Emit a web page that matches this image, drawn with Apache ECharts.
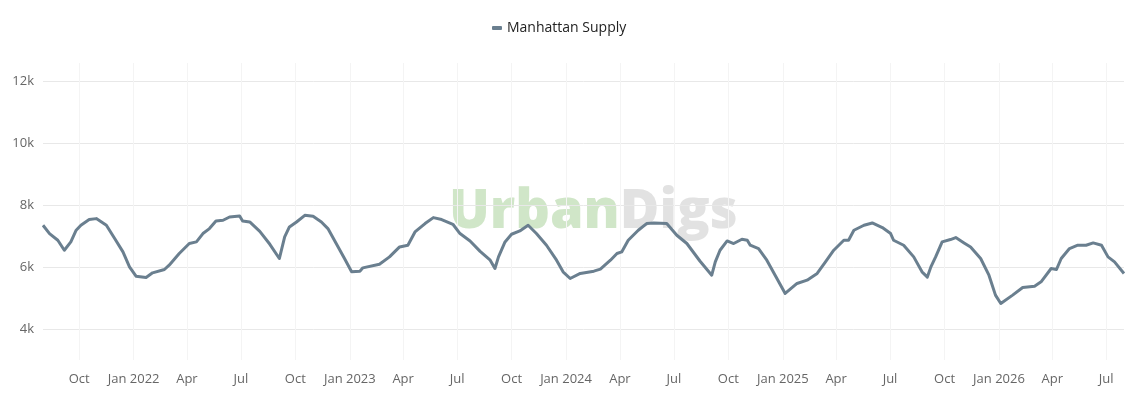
<!DOCTYPE html>
<html>
<head>
<meta charset="utf-8">
<script src="https://cdn.jsdelivr.net/npm/echarts@6/dist/echarts.min.js"></script>
<style>
html,body{margin:0;padding:0;background:#fff;}
#chart{width:1129px;height:400px;}
</style>
</head>
<body>
<div id="chart"></div>
<script>
const seriesName = 'Manhattan Supply';
const dates = [
'2021-08-01','2021-08-12','2021-08-26','2021-09-06','2021-09-17','2021-09-26','2021-10-04','2021-10-18','2021-10-30','2021-11-16','2021-11-30','2021-12-14','2021-12-25',
'2022-01-05','2022-01-22','2022-02-02','2022-02-22','2022-03-02','2022-03-19','2022-04-05','2022-04-17','2022-04-28','2022-05-09','2022-05-20','2022-06-01','2022-06-12','2022-06-29','2022-07-04','2022-07-16','2022-08-02','2022-08-19','2022-09-04','2022-09-13','2022-09-21','2022-10-03','2022-10-17','2022-10-31','2022-11-14','2022-11-25','2022-12-09','2022-12-23',
'2023-01-04','2023-01-18','2023-01-23','2023-02-20','2023-03-09','2023-03-26','2023-04-09','2023-04-21','2023-05-08','2023-05-22','2023-06-05','2023-06-24','2023-07-06','2023-07-23','2023-08-09','2023-08-26','2023-09-03','2023-09-09','2023-09-20','2023-10-01','2023-10-15','2023-10-29','2023-11-12','2023-11-29','2023-12-16','2023-12-27',
'2024-01-08','2024-01-25','2024-02-17','2024-02-28','2024-03-16','2024-03-27','2024-04-04','2024-04-15','2024-05-02','2024-05-16','2024-05-28','2024-06-19','2024-07-06','2024-07-23','2024-08-14','2024-09-03','2024-09-09','2024-09-17','2024-09-29','2024-10-10','2024-10-24','2024-11-02','2024-11-07','2024-11-21','2024-12-05','2024-12-19',
'2025-01-05','2025-01-25','2025-02-11','2025-02-28','2025-03-14','2025-03-28','2025-04-14','2025-04-22','2025-05-01','2025-05-18','2025-06-01','2025-06-18','2025-07-02','2025-07-07','2025-07-24','2025-08-10','2025-08-24','2025-09-02','2025-09-08','2025-09-16','2025-09-27','2025-10-11','2025-10-20','2025-11-03','2025-11-14','2025-12-01','2025-12-15','2025-12-26',
'2026-01-04','2026-01-24','2026-02-10','2026-03-02','2026-03-13','2026-03-30','2026-04-08','2026-04-16','2026-04-30','2026-05-14','2026-05-28','2026-06-09','2026-06-23','2026-07-04','2026-07-15','2026-07-31'
];
const supply = [
7355,7087,6871,6548,6817,7194,7355,7539,7570,7355,6925,6494,6010,
5710,5668,5817,5925,6065,6442,6765,6817,7087,7248,7494,7516,7623,7655,7494,7462,7160,6740,6280,6978,7300,7462,7677,7645,7462,7248,6765,6280,
5850,5871,5978,6097,6333,6655,6710,7139,7410,7603,7539,7387,7087,6849,6510,6226,5957,6333,6817,7065,7172,7355,7087,6710,6226,5850,
5635,5797,5871,5936,6226,6442,6494,6871,7194,7410,7430,7410,7032,6765,6200,5742,6171,6548,6849,6765,6903,6871,6710,6603,6226,5742,
5151,5474,5581,5797,6171,6548,6871,6871,7194,7355,7430,7280,7087,6871,6710,6333,5850,5680,6010,6333,6817,6893,6957,6785,6655,6280,5742,5097,
4828,5097,5345,5387,5526,5957,5925,6280,6603,6710,6710,6785,6710,6333,6171,5797
];
const yTicks = [4000, 6000, 8000, 10000, 12000];
const monthNames = ['Jan','Feb','Mar','Apr','May','Jun','Jul','Aug','Sep','Oct','Nov','Dec'];

const chart = echarts.init(document.getElementById('chart'), null, {renderer:'canvas'});
const font = '"Open Sans", "Noto Sans", sans-serif';
chart.setOption({
  animation: false,
  backgroundColor: '#ffffff',
  textStyle: {fontFamily: font},
  legend: {
    left: 487, top: 16,
    icon: 'roundRect', itemWidth: 10, itemHeight: 4, itemGap: 20,
    textStyle: {fontSize: 14, color: '#222', fontFamily: font},
    data: [seriesName]
  },
  graphic: [{
    type: 'text', left: 449, top: 186, z: 0, silent: true,
    style: {
      text: '{a|Urban}{b|Digs}',
      rich: {
        a: {fontSize: 54, fontWeight: 800, fontFamily: '"Open Sans"', fill: '#d0e6c8', color: '#d0e6c8'},
        b: {fontSize: 54, fontWeight: 800, fontFamily: '"Open Sans"', fill: '#e2e2e2', color: '#e2e2e2'}
      }
    }
  }],
  grid: {left: 43, right: 5, top: 63, bottom: 40, containLabel: false},
  xAxis: {
    type: 'time',
    min: 'dataMin', max: 'dataMax',
    splitNumber: 20,
    axisLine: {show: false},
    axisTick: {show: false},
    splitLine: {show: true, showMinLine: false, showMaxLine: false, lineStyle: {color: '#f4f4f4', width: 1}},
    axisLabel: {
      color: '#666', fontSize: 13, margin: 13, fontFamily: font,
      hideOverlap: false,
      formatter: function (v) {
        const d = new Date(v);
        const m = d.getMonth();
        return m === 0 ? 'Jan ' + d.getFullYear() : monthNames[m];
      }
    }
  },
  yAxis: {
    type: 'value',
    min: 3000, max: 12600, interval: 1000,
    axisLine: {show: false},
    axisTick: {show: false},
    splitLine: {show: true, lineStyle: {color: ['rgba(0,0,0,0)', '#e8e8e8'], width: 1}},
    axisLabel: {
      color: '#666', fontSize: 13, margin: 9, fontFamily: font,
      formatter: function (v) { return yTicks.indexOf(v) >= 0 ? (v / 1000) + 'k' : ''; }
    }
  },
  series: [{
    name: seriesName,
    type: 'line',
    z: 5,
    showSymbol: false,
    symbol: 'none',
    color: '#6a7f8f',
    lineStyle: {width: 3, color: '#6a7f8f', join: 'round'},
    data: dates.map((d, i) => [d, supply[i]])
  }]
});
</script>
</body>
</html>
